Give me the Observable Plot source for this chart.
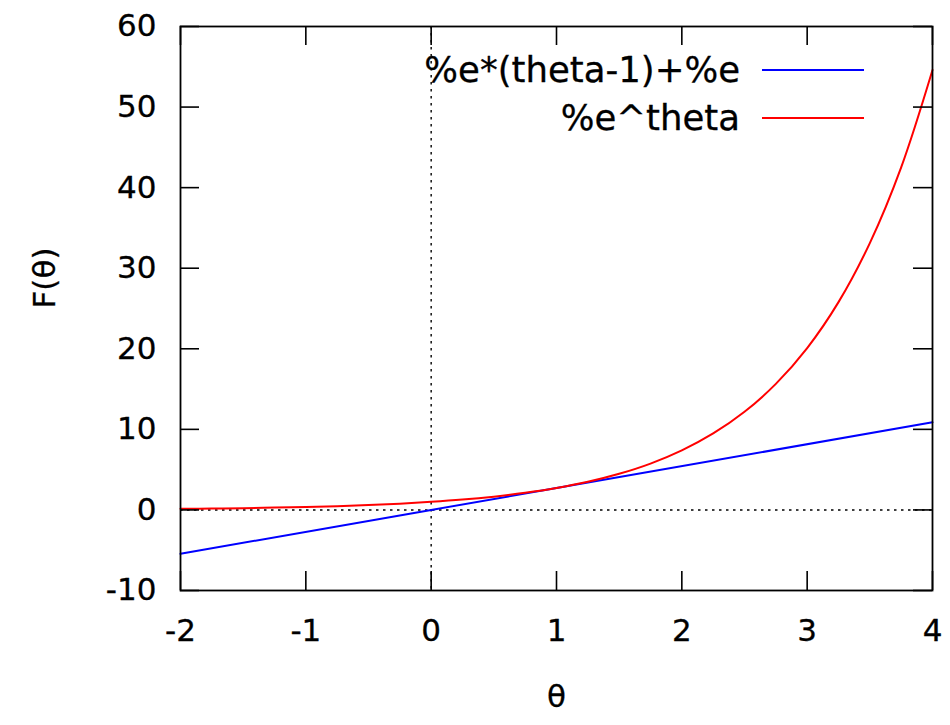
<!DOCTYPE html>
<html>
<head>
<meta charset="utf-8">
<script src="https://cdn.jsdelivr.net/npm/d3@7"></script>
<script src="https://cdn.jsdelivr.net/npm/@observablehq/plot@0.6"></script>
<style>
  body { margin: 0; background: #fff; font-family: "DejaVu Sans", sans-serif; }
  #wrap { position: relative; width: 950px; height: 725px; }
  .leg-text { position: absolute; right: 210px; font-size: 35.5px; line-height: 40px; color: #000; white-space: nowrap; -webkit-text-stroke: 0.3px #000; }
  .leg-line { position: absolute; left: 762px; width: 102px; height: 2px; }
</style>
</head>
<body>
<div id="wrap"></div>
<script>
// Data
const thetaExp = [-2, -1.75, -1.5, -1.25, -1, -0.75, -0.5, -0.25, 0, 0.25, 0.5, 0.75, 1, 1.25, 1.5, 1.75, 2, 2.25, 2.5, 2.75, 3, 3.25, 3.5, 3.75, 4];
const valuesExp = [0.14, 0.17, 0.22, 0.29, 0.37, 0.47, 0.61, 0.78, 1.0, 1.28, 1.65, 2.12, 2.72, 3.49, 4.48, 5.75, 7.39, 9.49, 12.18, 15.64, 20.09, 25.79, 33.12, 42.52, 54.6];
const thetaLin = [-2, 0, 1, 4];
const valuesLin = [-5.44, 0, 2.72, 10.87];
const seriesNames = ["%e*(theta-1)+%e", "%e^theta"];
const seriesColors = ["#0000ff", "#ff0000"];
const xTicks = [-2, -1, 0, 1, 2, 3, 4];
const yTicks = [-10, 0, 10, 20, 30, 40, 50, 60];
const xLabel = "θ";
const yLabel = "F(θ)";

const expData = thetaExp.map((t, i) => ({t, v: valuesExp[i]}));
const linData = thetaLin.map((t, i) => ({t, v: valuesLin[i]}));

const W = 950, H = 725, mL = 180, mR = 18, mT = 26, mB = 135;
const pw = W - mL - mR, ph = H - mT - mB, tl = 19;
const fs = 31;

const chart = Plot.plot({
  width: W, height: H,
  marginLeft: mL, marginRight: mR, marginTop: mT, marginBottom: mB,
  style: { fontFamily: "DejaVu Sans, sans-serif", background: "white" },
  x: { domain: [-2, 4] },
  y: { domain: [-10, 60] },
  marks: [
    Plot.ruleY([0], { stroke: "black", strokeWidth: 1.4, strokeDasharray: "2.5,4.5" }),
    Plot.ruleX([0], { stroke: "black", strokeWidth: 1.4, strokeDasharray: "2.5,4.5" }),
    Plot.line(linData, { x: "t", y: "v", stroke: seriesColors[0], strokeWidth: 2 }),
    Plot.line(expData, { x: "t", y: "v", stroke: seriesColors[1], strokeWidth: 2, curve: "catmull-rom" }),
    Plot.ruleX(xTicks, { stroke: "black", strokeWidth: 1.6, insetTop: ph - tl }),
    Plot.ruleX(xTicks, { stroke: "black", strokeWidth: 1.6, insetBottom: ph - tl }),
    Plot.ruleY(yTicks, { stroke: "black", strokeWidth: 1.6, insetRight: pw - tl }),
    Plot.ruleY(yTicks, { stroke: "black", strokeWidth: 1.6, insetLeft: pw - tl }),
    Plot.frame({ stroke: "black", strokeWidth: 1.8 }),
    Plot.axisX({ ticks: xTicks, tickSize: 0, tickPadding: 28, fontSize: fs, label: null, tickFormat: d => String(d).replace("−", "-") }),
    Plot.axisY({ ticks: yTicks, tickSize: 0, tickPadding: 24, fontSize: fs, label: null, tickFormat: d => String(d).replace("−", "-") }),
    Plot.text([xLabel], { text: d => d, frameAnchor: "bottom", dy: 116, fontSize: fs, fill: "black" }),
    Plot.text([yLabel], { text: d => d, frameAnchor: "left", dx: -135, rotate: -90, fontSize: fs, fill: "black" })
  ]
});
chart.querySelectorAll("text").forEach(t => { t.setAttribute("fill", "black"); t.setAttribute("stroke", "black"); t.setAttribute("stroke-width", "0.3"); });

const wrap = document.getElementById("wrap");
wrap.appendChild(chart);

const legY = [70, 118];
seriesNames.forEach((name, i) => {
  const t = document.createElement("div");
  t.className = "leg-text";
  t.textContent = name;
  t.style.top = (legY[i] - 20) + "px";
  wrap.appendChild(t);
  const l = document.createElement("div");
  l.className = "leg-line";
  l.style.top = (legY[i] - 1) + "px";
  l.style.background = seriesColors[i];
  wrap.appendChild(l);
});
</script>
</body>
</html>
